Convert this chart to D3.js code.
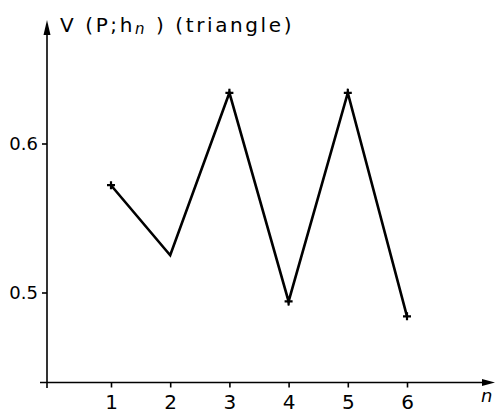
<!DOCTYPE html>
<html>
<head>
<meta charset="utf-8">
<script src="https://cdn.jsdelivr.net/npm/d3@7"></script>
<style>
  html, body { margin: 0; padding: 0; background: #fff; }
  svg { display: block; }
  text { font-family: "DejaVu Sans", sans-serif; fill: #000; }
</style>
</head>
<body>
<svg id="chart" width="497" height="414"></svg>
<script>
// n = 1..6 and the value V(P; h_n) for the triangle
const nValues = [1, 2, 3, 4, 5, 6];
const vValues = [0.572, 0.525, 0.634, 0.494, 0.634, 0.484];
// which points carry a small cross marker
const marked = [true, false, true, true, true, true];
const xTickLabels = ["1", "2", "3", "4", "5", "6"];
const yTickValues = [0.5, 0.6];
const yTickLabels = ["0.5", "0.6"];

const svg = d3.select("#chart");

const x = d3.scaleLinear().domain([1, 6]).range([111, 407]);
const y = d3.scaleLinear().domain([0.5, 0.6]).range([292.5, 143.5]);

const axisX = 47;     // vertical axis position
const axisY = 382.5;  // horizontal axis position

// axis lines with arrowheads
svg.append("line")
  .attr("x1", axisX).attr("x2", axisX)
  .attr("y1", 30).attr("y2", 388)
  .attr("stroke", "#000").attr("stroke-width", 1.6);
svg.append("path")
  .attr("d", `M${axisX},20 L${axisX - 3.5},35 L${axisX + 3.5},35 Z`)
  .attr("fill", "#000");

svg.append("line")
  .attr("x1", 40).attr("x2", 488)
  .attr("y1", axisY).attr("y2", axisY)
  .attr("stroke", "#000").attr("stroke-width", 1.4);
svg.append("path")
  .attr("d", `M495,${axisY} L482,${axisY - 3.5} L482,${axisY + 3.5} Z`)
  .attr("fill", "#000");

// x axis ticks and labels
const gx = svg.append("g")
  .attr("transform", `translate(0,${axisY})`)
  .call(d3.axisBottom(x)
    .tickValues(nValues)
    .tickFormat((d, i) => xTickLabels[i])
    .tickSize(5)
    .tickPadding(7));
gx.select(".domain").remove();
gx.selectAll(".tick line").attr("stroke", "#000").attr("stroke-width", 1.6);
gx.selectAll(".tick text")
  .attr("font-size", 20)
  .attr("font-family", "DejaVu Sans, sans-serif")
  .attr("fill", "#000");

// y axis ticks and labels
const gy = svg.append("g")
  .attr("transform", `translate(${axisX},0)`)
  .call(d3.axisLeft(y)
    .tickValues(yTickValues)
    .tickFormat((d, i) => yTickLabels[i])
    .tickSize(5)
    .tickPadding(4));
gy.select(".domain").remove();
gy.selectAll(".tick line").attr("stroke", "#000").attr("stroke-width", 1.6);
gy.selectAll(".tick text")
  .attr("font-size", 18)
  .attr("font-family", "DejaVu Sans, sans-serif")
  .attr("fill", "#000");

// the polyline
const pts = nValues.map((n, i) => ({ n, v: vValues[i], m: marked[i] }));
svg.append("path")
  .datum(pts)
  .attr("fill", "none")
  .attr("stroke", "#000")
  .attr("stroke-width", 2.6)
  .attr("stroke-linejoin", "miter")
  .attr("d", d3.line().x(d => x(d.n)).y(d => y(d.v)));

// cross markers
const cross = svg.append("g");
pts.filter(d => d.m).forEach(d => {
  const cx = x(d.n), cy = y(d.v);
  cross.append("path")
    .attr("d", `M${cx - 4},${cy} L${cx + 4},${cy} M${cx},${cy - 4} L${cx},${cy + 4}`)
    .attr("stroke", "#000")
    .attr("stroke-width", 2.2);
});

// title
const title = svg.append("text")
  .attr("x", 60).attr("y", 32)
  .attr("font-size", 20)
  .attr("letter-spacing", 2.6);
title.append("tspan").text("V (P;h");
title.append("tspan").attr("font-style", "italic").attr("font-size", 15)
  .attr("dy", 2).text("n");
title.append("tspan").attr("dy", -2).text(" ) (triangle)");

// x axis variable
svg.append("text")
  .attr("x", 481).attr("y", 402)
  .attr("font-size", 18)
  .attr("font-style", "italic")
  .text("n");
</script>
</body>
</html>
